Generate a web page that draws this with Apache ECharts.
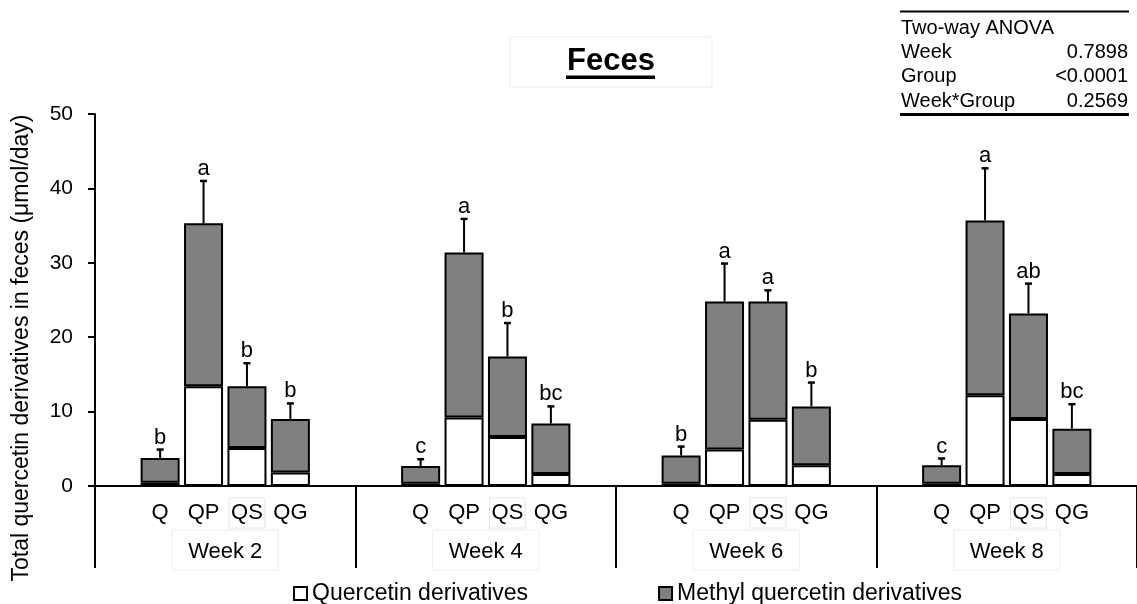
<!DOCTYPE html>
<html>
<head>
<meta charset="utf-8">
<script src="https://cdn.jsdelivr.net/npm/echarts@6/dist/echarts.min.js"></script>
<style>html,body{margin:0;padding:0;background:#fff;}#c{width:1137px;height:604px;}</style>
</head>
<body>
<div id="c"></div>
<script>
const groups = ['Q', 'QP', 'QS', 'QG'];
const weeks = ['Week 2', 'Week 4', 'Week 6', 'Week 8'];
// values in week order, each week: Q, QP, QS, QG
const quercetin = [0.45, 13.4, 5.1, 1.8,  0.3, 9.2, 6.6, 1.6,  0.3, 4.9, 8.9, 2.8,  0.3, 12.2, 9.0, 1.6];
const methyl    = [3.3, 21.9, 8.3, 7.2,   2.4, 22.2, 10.8, 6.8, 3.8, 19.9, 15.9, 7.9, 2.5, 23.5, 14.2, 6.1];
const sem       = [1.15, 5.7, 3.1, 2.1,   0.9, 4.5, 4.5, 2.3,   1.2, 5.1, 1.5, 3.2,   0.9, 7.0, 4.0, 3.3];
const letters   = ['b','a','b','b', 'c','a','b','bc', 'b','a','a','b', 'c','a','ab','bc'];
const yTicks = [0, 10, 20, 30, 40, 50];
const anova = [['Week', '0.7898'], ['Group', '<0.0001'], ['Week*Group', '0.2569']];

const FONT = '"Liberation Sans", Arial, Helvetica, sans-serif';
const SLOTS = 6; // per week: empty, Q, QP, QS, QG, empty
const slotLabels = [];
for (let w = 0; w < weeks.length; w++) {
  for (let s = 0; s < SLOTS; s++) {
    const g = s - 1;
    slotLabels.push(g >= 0 && g < groups.length ? groups[g] : '');
  }
}
const slotOf = (w, g) => w * SLOTS + 1 + g;
const qData = slotLabels.map(() => '-');
const mData = slotLabels.map(() => '-');
const errData = [];
const errLetters = [];
for (let w = 0; w < weeks.length; w++) {
  for (let g = 0; g < groups.length; g++) {
    const i = w * groups.length + g;
    const s = slotOf(w, g);
    qData[s] = quercetin[i];
    mData[s] = methyl[i];
    errData.push([s, quercetin[i] + methyl[i], sem[i]]);
    errLetters.push(letters[i]);
  }
}

const chart = echarts.init(document.getElementById('c'), null, {renderer: 'canvas'});
const labRich = {fontSize: 22, fontFamily: FONT, color: '#000', padding: [4, 2, 4, 2]};
const option = {
  backgroundColor: '#fff',
  animation: false,
  textStyle: {fontFamily: FONT, color: '#000'},
  grid: {left: 95, right: -6, top: 114, bottom: 118, containLabel: false},
  legend: {
    left: 293, top: 582, padding: 0,
    itemWidth: 13, itemHeight: 13, itemGap: 130,
    icon: 'rect',
    textStyle: {fontSize: 23, color: '#000', fontFamily: FONT},
    data: ['Quercetin derivatives', 'Methyl quercetin derivatives']
  },
  xAxis: [
    {
      type: 'category', data: slotLabels, position: 'bottom',
      axisLine: {lineStyle: {color: '#000', width: 2}},
      axisTick: {show: false},
      axisLabel: {
        interval: 0, color: '#000', margin: 12, fontFamily: FONT, fontSize: 22,
        formatter: v => v === '' ? '' : (v === 'QS' ? '{b|QS}' : '{n|' + v + '}'),
        rich: {
          n: labRich,
          b: Object.assign({}, labRich, {borderColor: '#e6e6e6', borderWidth: 1})
        }
      }
    },
    {
      type: 'category', data: weeks, position: 'bottom',
      axisLine: {show: true, lineStyle: {color: '#000', width: 2}},
      axisTick: {show: true, length: 82, interval: 0, lineStyle: {color: '#000', width: 2}},
      axisLabel: {
        interval: 0, fontSize: 22, color: '#000', margin: 44, fontFamily: FONT,
        borderColor: '#ececec', borderWidth: 1, padding: [11, 16, 7, 16]
      }
    }
  ],
  yAxis: {
    type: 'value', min: 0, max: 50, interval: 10,
    axisLine: {show: true, lineStyle: {color: '#000', width: 2}},
    axisTick: {show: true, length: 7, lineStyle: {color: '#000', width: 2}},
    axisLabel: {fontSize: 21, color: '#000', margin: 22, fontFamily: FONT,
      formatter: v => yTicks.indexOf(v) >= 0 ? String(v) : ''},
    splitLine: {show: false}
  },
  series: [
    {
      name: 'Quercetin derivatives', type: 'bar', stack: 'tot', xAxisIndex: 0,
      barWidth: 39, data: qData,
      itemStyle: {color: '#ffffff', borderColor: '#000', borderWidth: 2}
    },
    {
      name: 'Methyl quercetin derivatives', type: 'bar', stack: 'tot', xAxisIndex: 0,
      barWidth: 39, data: mData,
      itemStyle: {color: '#808080', borderColor: '#000', borderWidth: 2}
    },
    {
      type: 'custom', xAxisIndex: 0, z: 5, data: errData,
      encode: {x: 0, y: 1},
      renderItem: function (params, api) {
        const x = api.value(0), top = api.value(1), err = api.value(2);
        const p0 = api.coord([x, top]);
        const p1 = api.coord([x, top + err]);
        return {
          type: 'group',
          children: [
            {type: 'line', shape: {x1: p0[0], y1: p0[1], x2: p1[0], y2: p1[1]}, style: {stroke: '#000', lineWidth: 2}},
            {type: 'line', shape: {x1: p1[0] - 3.5, y1: p1[1], x2: p1[0] + 3.5, y2: p1[1]}, style: {stroke: '#000', lineWidth: 2.5}},
            {type: 'text', x: p1[0], y: p1[1] - 1,
              style: {text: errLetters[params.dataIndex], fontSize: 22, fontFamily: FONT, fill: '#000', align: 'center', verticalAlign: 'bottom'}}
          ]
        };
      }
    }
  ],
  graphic: [
    {type: 'text', x: 22, y: 348, rotation: Math.PI / 2,
      style: {text: 'Total quercetin derivatives in feces (μmol/day)', fontSize: 23, fontFamily: FONT, fill: '#000', align: 'center', verticalAlign: 'middle'}},
    {type: 'rect', shape: {x: 510, y: 37, width: 202, height: 50}, style: {fill: 'none', stroke: '#ececec', lineWidth: 1}},
    {type: 'text', x: 611, y: 61,
      style: {text: 'Feces', fontSize: 31, fontWeight: 'bold', fontFamily: FONT, fill: '#000', align: 'center', verticalAlign: 'middle'}},
    {type: 'rect', shape: {x: 566, y: 75.5, width: 89, height: 3.5}, style: {fill: '#000'}},
    {type: 'line', shape: {x1: 900, y1: 11.5, x2: 1129, y2: 11.5}, style: {stroke: '#000', lineWidth: 2}},
    {type: 'line', shape: {x1: 900, y1: 114.5, x2: 1129, y2: 114.5}, style: {stroke: '#000', lineWidth: 3}},
    {type: 'text', x: 901, y: 28, style: {text: 'Two-way ANOVA', fontSize: 20, fontFamily: FONT, fill: '#000', align: 'left', verticalAlign: 'middle'}}
  ].concat(anova.flatMap((r, i) => [
    {type: 'text', x: 901, y: 52 + i * 24.5, style: {text: r[0], fontSize: 20, fontFamily: FONT, fill: '#000', align: 'left', verticalAlign: 'middle'}},
    {type: 'text', x: 1128, y: 52 + i * 24.5, style: {text: r[1], fontSize: 20, fontFamily: FONT, fill: '#000', align: 'right', verticalAlign: 'middle'}}
  ]))
};
chart.setOption(option);
</script>
</body>
</html>
